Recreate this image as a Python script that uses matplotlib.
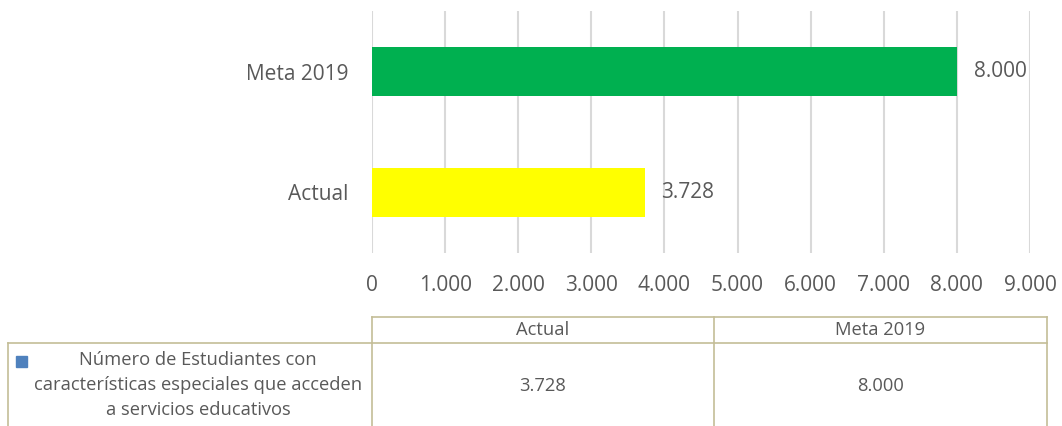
import matplotlib.pyplot as plt
from matplotlib.lines import Line2D
from matplotlib.patches import Rectangle

# datos del gráfico
categories = ['Actual', 'Meta 2019']
values = [3728, 8000]
bar_colors = ['#FFFF00', '#00B050']
series_name = 'Número de Estudiantes con\ncaracterísticas especiales que acceden\na servicios educativos'
series_color = '#4F81BD'
x_ticks = list(range(0, 9001, 1000))

W, H = 1062, 426
TXT = '#595959'
EDGE = '#C4BD97'


def fmt(v):                                     # separador de miles con punto
    return f'{v:,.0f}'.replace(',', '.')


def fx(px):                                     # píxel -> coordenada de figura
    return px / W


def fy(py):
    return 1 - py / H


plt.rcParams['font.family'] = ['Open Sans', 'DejaVu Sans']

fig = plt.figure(figsize=(W / 100, H / 100), dpi=100)
ax = fig.add_axes([fx(372), fy(253), 658 / W, 242 / H])

ax.barh(range(len(categories)), values, height=0.405, color=bar_colors, zorder=2)
ax.set_xlim(0, 9000)
ax.set_ylim(-0.5, 1.5)
ax.set_xticks(x_ticks)
ax.set_xticklabels([fmt(t) for t in x_ticks])
ax.set_yticks(range(len(categories)))
ax.set_yticklabels(categories)
ax.tick_params(axis='x', length=0, labelsize=15, colors=TXT, pad=16)
ax.tick_params(axis='y', length=0, labelsize=15, colors=TXT, pad=17)
ax.xaxis.grid(True, color='#D9D9D9', lw=1.5, zorder=0)
ax.set_axisbelow(True)
for s in ax.spines.values():
    s.set_visible(False)

for i, v in enumerate(values):
    ax.annotate(fmt(v), (v, i), xytext=(17, 0), textcoords='offset pixels',
                va='center', ha='left', fontsize=15, color=TXT)

# tabla de datos debajo del gráfico
col_edges = [8, 372, 714, 1047]
hdr_top, hdr_bot, tbl_bot = 317, 343, 430


def line(x0, y0, x1, y1):
    fig.add_artist(Line2D([fx(x0), fx(x1)], [fy(y0), fy(y1)], color=EDGE, lw=1.2,
                          transform=fig.transFigure))


line(col_edges[1], hdr_top, col_edges[-1], hdr_top)
line(col_edges[0], hdr_bot, col_edges[-1], hdr_bot)
line(col_edges[0], hdr_bot, col_edges[0], tbl_bot)
for x in col_edges[1:]:
    line(x, hdr_top, x, tbl_bot)

for j, (cat, v) in enumerate(zip(categories, values)):
    cx = (col_edges[j + 1] + col_edges[j + 2]) / 2
    fig.text(fx(cx), fy((hdr_top + hdr_bot) / 2), cat, ha='center', va='center',
             fontsize=13.2, color=TXT)
    fig.text(fx(cx), fy(386), fmt(v), ha='center', va='center', fontsize=13.2, color=TXT)

fig.add_artist(Rectangle((fx(16), fy(367)), 11 / W, 11 / H, color=series_color,
                         transform=fig.transFigure))
fig.text(fx(198), fy(385), series_name, ha='center', va='center', fontsize=13.2,
         color=TXT, linespacing=1.5)

fig.savefig('out.png', dpi=100)
